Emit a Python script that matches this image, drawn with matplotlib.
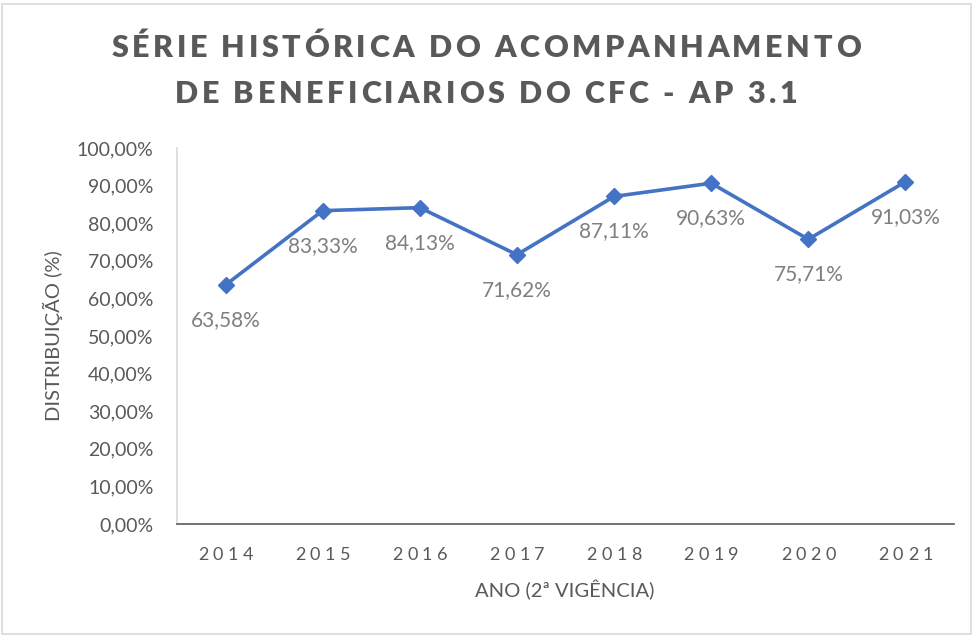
import matplotlib
matplotlib.use("Agg")
import matplotlib.pyplot as plt
from matplotlib.patches import Rectangle
from matplotlib.transforms import IdentityTransform

# data
anos = ["2014", "2015", "2016", "2017", "2018", "2019", "2020", "2021"]
valores = [63.58, 83.33, 84.13, 71.62, 87.11, 90.63, 75.71, 91.03]
yticks = [0, 10, 20, 30, 40, 50, 60, 70, 80, 90, 100]

titulo = ["SÉRIE HISTÓRICA DO ACOMPANHAMENTO",
          "DE BENEFICIARIOS DO CFC - AP 3.1"]
xlabel = "ANO (2ª VIGÊNCIA)"
ylabel = "DISTRIBUIÇÃO (%)"

LINE_COLOR = "#4472C4"
TEXT_GRAY = "#595959"
LABEL_GRAY = "#7f7f7f"

plt.rcParams['font.family'] = ['Lato', 'DejaVu Sans']

fig = plt.figure(figsize=(9.74, 6.37), dpi=100)
ax = fig.add_axes([0.1817, 0.1774, 0.7978, 0.5903])
renderer = fig.canvas.get_renderer()


def text_width(s, **kw):
    t = fig.text(0, 0, s, **kw)
    w = t.get_window_extent(renderer).width
    t.remove()
    return w


def spaced_text(x_px, y_px, s, spacing, **kw):
    """Draw s centred at x_px (pixels) with extra letter spacing."""
    bar = text_width("|", **kw)
    total = text_width(s + "|", **kw) - bar + spacing * (len(s) - 1)
    x0 = x_px - total / 2
    for i, ch in enumerate(s):
        if ch == " ":
            continue
        off = text_width(s[:i] + "|", **kw) - bar if i else 0
        fig.text(x0 + off + i * spacing, y_px, ch, transform=IdentityTransform(),
                 ha='left', va='baseline', **kw)


# outer chart border
fig.patches.append(Rectangle((0.002, 0.004), 0.995, 0.99, transform=fig.transFigure,
                             fill=False, edgecolor="#d9d9d9", lw=1.2))

x = list(range(len(anos)))
ax.plot(x, valores, color=LINE_COLOR, lw=2.6, marker='D', markersize=8.5,
        markerfacecolor=LINE_COLOR, markeredgecolor=LINE_COLOR, zorder=3)

for xi, v in zip(x, valores):
    txt = f"{v:.2f}%".replace(".", ",")
    ax.annotate(txt, (xi, v), xytext=(0, -18), textcoords="offset points",
                ha='center', va='top', fontsize=15, color=LABEL_GRAY)

ax.set_xlim(-0.5, len(anos) - 0.5)
ax.set_ylim(0, 100)
ax.set_xticks(x)
ax.set_xticklabels([])
ax.set_yticks(yticks)
ax.set_yticklabels([f"{t:.2f}%".replace(".", ",") for t in yticks])

ax.tick_params(axis='x', length=0)
ax.tick_params(axis='y', length=0, pad=17, labelsize=14, labelcolor=TEXT_GRAY)

for s in ["top", "right"]:
    ax.spines[s].set_visible(False)
ax.spines["left"].set_color("#d9d9d9")
ax.spines["left"].set_linewidth(1.2)
ax.spines["bottom"].set_color("#595959")
ax.spines["bottom"].set_linewidth(1.2)

# letter-spaced category labels, like the original
for xi, ano in zip(x, anos):
    px = ax.transData.transform((xi, 0))[0]
    spaced_text(px, 637 - 560, ano, 4.5, fontsize=13, color=TEXT_GRAY)

fig.text(0.5795, 1 - 590 / 637, xlabel, ha='center', va='center', fontsize=14.5,
         color=TEXT_GRAY)
ax.set_ylabel(ylabel, fontsize=14.5, color=TEXT_GRAY, labelpad=10)

# letter-spaced bold title
spaced_text(486, 637 - 57, titulo[0], 3.6, fontsize=22, fontweight='heavy', color=TEXT_GRAY)
spaced_text(486, 637 - 103, titulo[1], 3.6, fontsize=22, fontweight='heavy', color=TEXT_GRAY)

fig.savefig("out.png", dpi=100)
